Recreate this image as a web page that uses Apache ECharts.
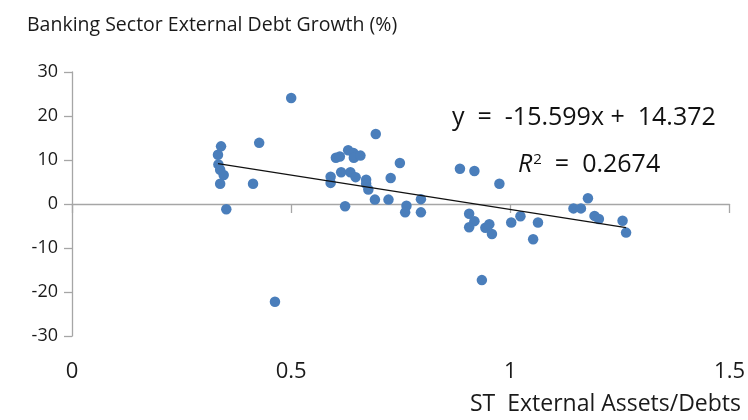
<!DOCTYPE html>
<html>
<head>
<meta charset="utf-8">
<script src="https://cdn.jsdelivr.net/npm/echarts@6/dist/echarts.min.js"></script>
<style>
  html, body { margin: 0; padding: 0; background: #fff; }
  #chart { width: 748px; height: 420px; }
</style>
</head>
<body>
<div id="chart"></div>
<script>
// ST external assets / debts ratio for each observation
const assetDebtRatio = [
  0.500, 0.340, 0.333, 0.334, 0.338, 0.346, 0.338, 0.352, 0.427, 0.413,
  0.463, 0.693, 0.602, 0.611, 0.630, 0.642, 0.643, 0.658, 0.590, 0.590,
  0.614, 0.635, 0.647, 0.671, 0.671, 0.676, 0.727, 0.748, 0.691, 0.722,
  0.623, 0.763, 0.760, 0.796, 0.796, 0.885, 0.918, 0.975, 0.906, 0.918,
  0.906, 0.943, 0.952, 0.958, 1.002, 1.023, 1.063, 1.052, 0.935, 1.144,
  1.161, 1.177, 1.192, 1.202, 1.256, 1.264
];
// Banking sector external debt growth (%) for each observation
const debtGrowth = [
  24.1, 13.1, 11.2, 9.0, 7.8, 6.6, 4.6, -1.2, 13.9, 4.6,
  -22.2, 15.9, 10.5, 10.8, 12.2, 11.6, 10.5, 11.0, 6.2, 4.8,
  7.2, 7.2, 6.1, 5.5, 4.6, 3.3, 5.9, 9.3, 1.0, 1.0,
  -0.5, -0.4, -1.9, 1.1, -1.9, 8.0, 7.5, 4.6, -2.2, -3.9,
  -5.3, -5.4, -4.6, -6.8, -4.2, -2.8, -4.2, -8.0, -17.3, -1.0,
  -1.0, 1.3, -2.7, -3.4, -3.8, -6.5
];
// Linear fit: y = slope * x + intercept
const trendSlope = -15.599;
const trendIntercept = 14.372;
const rSquared = 0.2674;

const xTicks = [0, 0.5, 1, 1.5];
const yTicks = [-30, -20, -10, 0, 10, 20, 30];

const points = assetDebtRatio.map((x, i) => [x, debtGrowth[i]]);
const xLo = Math.min(...assetDebtRatio);
const xHi = Math.max(...assetDebtRatio);
const trend = [xLo, xHi].map(x => [x, trendSlope * x + trendIntercept]);

const FONT = '"Open Sans", "Noto Sans", sans-serif';
const AXIS_GRAY = '#a6a6a6';
const TEXT = '#1a1a1a';

const chart = echarts.init(document.getElementById('chart'), null, { renderer: 'canvas' });
chart.setOption({
  animation: false,
  backgroundColor: '#ffffff',
  grid: { left: 72, right: 16, top: 72, bottom: 84, containLabel: false },
  xAxis: [
    {
      // line drawn through y = 0 with downward ticks
      type: 'value',
      min: xTicks[0], max: xTicks[xTicks.length - 1], interval: 0.5,
      axisLine: { show: true, onZero: true, lineStyle: { color: AXIS_GRAY, width: 1.3 } },
      axisTick: { show: true, inside: false, length: 9, lineStyle: { color: AXIS_GRAY, width: 1.3 } },
      axisLabel: { show: false },
      splitLine: { show: false }
    },
    {
      // tick labels along the bottom of the plot
      type: 'value', position: 'bottom',
      min: xTicks[0], max: xTicks[xTicks.length - 1], interval: 0.5,
      axisLine: { show: false, onZero: false },
      axisTick: { show: false },
      splitLine: { show: false },
      axisLabel: {
        show: true, margin: 25, fontFamily: FONT, fontSize: 22, color: TEXT,
        formatter: v => String(v)
      }
    }
  ],
  yAxis: {
    type: 'value',
    min: yTicks[0], max: yTicks[yTicks.length - 1], interval: 10,
    axisLine: { show: true, onZero: false, lineStyle: { color: AXIS_GRAY, width: 1.3 } },
    axisTick: { show: true, inside: false, length: 8, lineStyle: { color: AXIS_GRAY, width: 1.3 } },
    axisLabel: { margin: 14, fontFamily: FONT, fontSize: 18, color: TEXT },
    splitLine: { show: false }
  },
  series: [
    {
      type: 'scatter',
      xAxisIndex: 0,
      data: points,
      symbol: 'circle',
      symbolSize: 10.5,
      itemStyle: { color: '#4a7ebb', opacity: 1 },
      z: 3
    },
    {
      type: 'line',
      xAxisIndex: 0,
      data: trend,
      symbol: 'none',
      lineStyle: { color: '#111', width: 1.3 },
      z: 4
    }
  ],
  graphic: [
    {
      type: 'text', left: 27, top: 15,
      style: { text: 'Banking Sector External Debt Growth (%)', font: '19.5px ' + FONT, fill: TEXT }
    },
    {
      type: 'text', right: 7, top: 393,
      style: { text: 'ST  External Assets/Debts', font: '23px ' + FONT, fill: TEXT }
    },
    {
      type: 'text', left: 452, top: 105,
      style: {
        text: 'y  =  ' + trendSlope.toFixed(3) + 'x +  ' + trendIntercept.toFixed(3),
        font: '25px ' + FONT, fill: '#111'
      }
    },
    {
      type: 'text', left: 518, top: 152,
      style: {
        text: '{i|R}{s|2}  =  ' + rSquared.toFixed(4),
        font: '25px ' + FONT, fill: '#111',
        rich: {
          i: { fontStyle: 'italic', fontSize: 25, fontFamily: FONT, fill: '#111' },
          s: { fontSize: 15, fontFamily: FONT, verticalAlign: 'top', padding: [0, 0, 8, 1], fill: '#111' }
        }
      }
    }
  ]
});
</script>
</body>
</html>
